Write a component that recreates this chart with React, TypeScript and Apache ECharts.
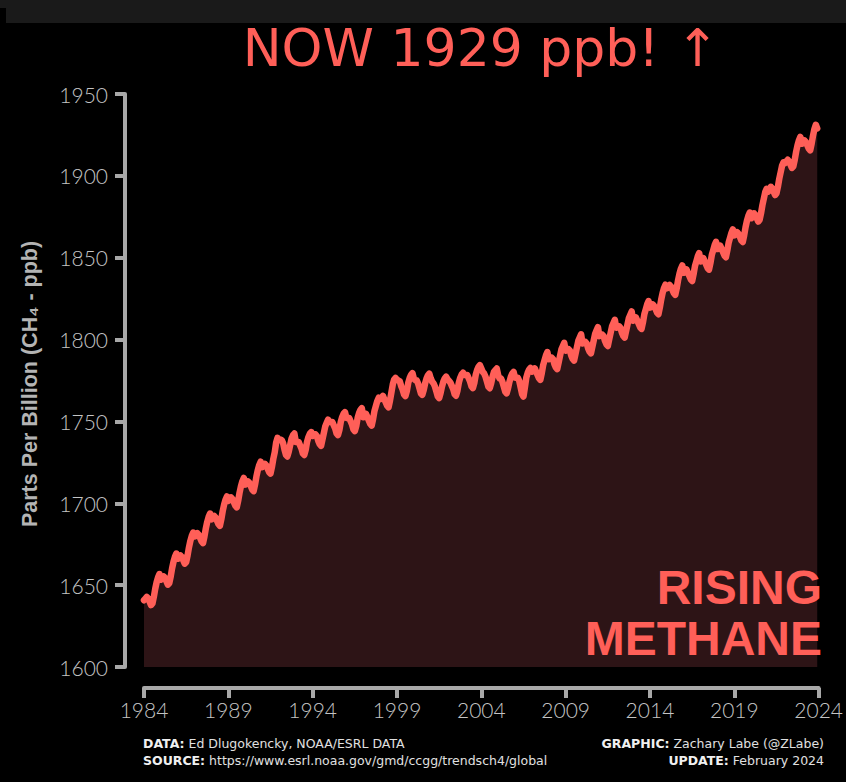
import React, { useEffect, useRef } from "react";
import * as echarts from "echarts";

const startYear = 1984;
const xTicks = [1984, 1989, 1994, 1999, 2004, 2009, 2014, 2019, 2024];
const yTicks = [1600, 1650, 1700, 1750, 1800, 1850, 1900, 1950];

// Monthly global mean CH4 (ppb), one row per year, Jan..Dec
const ch4_1980s = [
  [1640.8, 1641.8, 1642.8, 1641.8, 1639.8, 1637.8, 1638.8, 1642.8, 1647.8, 1651.8, 1654.8, 1656.8],
  [1653.3, 1654.3, 1655.3, 1654.3, 1652.3, 1650.3, 1651.3, 1655.3, 1660.3, 1664.3, 1667.3, 1669.3],
  [1666.1, 1667.1, 1668.1, 1667.1, 1665.1, 1663.1, 1664.1, 1668.1, 1673.1, 1677.1, 1680.1, 1682.1],
  [1679.7, 1680.7, 1681.7, 1680.7, 1678.7, 1676.7, 1675.7, 1679.7, 1684.7, 1688.7, 1691.7, 1693.7],
  [1690.2, 1691.2, 1692.2, 1691.2, 1689.2, 1687.2, 1686.2, 1690.2, 1695.2, 1699.2, 1702.2, 1704.2],
  [1701.5, 1702.5, 1703.5, 1702.5, 1700.5, 1698.5, 1697.5, 1701.5, 1706.5, 1710.5, 1713.5, 1715.5],
];
const ch4_1990s = [
  [1711.4, 1712.4, 1713.4, 1712.4, 1710.4, 1708.4, 1707.4, 1711.4, 1716.4, 1720.4, 1723.4, 1725.4],
  [1722.1, 1723.1, 1724.1, 1723.1, 1721.1, 1719.1, 1718.1, 1722.1, 1727.1, 1731.1, 1737.0, 1740.0],
  [1738.6, 1739.0, 1738.6, 1736.6, 1732.6, 1729.6, 1728.6, 1731.6, 1735.6, 1739.6, 1741.6, 1742.6],
  [1737.5, 1737.5, 1737.5, 1735.5, 1733.5, 1730.5, 1729.5, 1732.5, 1737.5, 1740.5, 1742.5, 1743.5],
  [1741.1, 1742.1, 1742.1, 1741.1, 1738.1, 1736.1, 1735.1, 1739.1, 1743.1, 1747.1, 1749.1, 1751.1],
  [1749.7, 1749.7, 1749.7, 1747.7, 1745.7, 1742.7, 1741.7, 1744.7, 1749.7, 1752.7, 1754.7, 1755.7],
  [1752.1, 1752.1, 1752.1, 1750.1, 1748.1, 1745.1, 1744.1, 1747.1, 1752.1, 1755.1, 1757.1, 1758.1],
  [1752.5, 1753.5, 1754.5, 1752.5, 1750.5, 1748.5, 1747.5, 1751.5, 1756.5, 1759.5, 1762.5, 1764.5],
  [1763.6, 1764.6, 1765.6, 1763.6, 1761.6, 1759.6, 1758.6, 1762.6, 1767.6, 1772.6, 1775.6, 1776.6],
  [1775.5, 1775.0, 1774.5, 1771.5, 1769.5, 1766.5, 1765.5, 1768.5, 1773.5, 1776.5, 1778.5, 1779.5],
];
const ch4_2000s = [
  [1776.2, 1775.2, 1775.2, 1773.2, 1770.2, 1767.2, 1766.2, 1769.2, 1773.2, 1776.2, 1778.2, 1779.2],
  [1776.3, 1774.3, 1773.3, 1771.3, 1768.3, 1765.3, 1764.3, 1767.3, 1771.3, 1774.3, 1776.3, 1777.3],
  [1775.7, 1774.7, 1773.7, 1771.7, 1769.7, 1766.7, 1765.7, 1768.7, 1773.7, 1776.7, 1778.7, 1779.7],
  [1778.4, 1778.4, 1778.4, 1776.4, 1774.4, 1771.4, 1770.4, 1773.4, 1778.4, 1781.4, 1783.4, 1784.4],
  [1782.3, 1780.3, 1779.3, 1777.3, 1774.3, 1771.3, 1770.3, 1773.3, 1777.3, 1780.3, 1781.3, 1782.3],
  [1778.2, 1776.2, 1776.2, 1774.2, 1771.2, 1768.2, 1767.2, 1770.2, 1774.2, 1777.2, 1779.2, 1780.2],
  [1776.7, 1776.7, 1776.7, 1774.7, 1770.7, 1766.7, 1765.2, 1770.7, 1776.7, 1779.7, 1781.7, 1782.7],
  [1780.4, 1781.4, 1782.4, 1780.4, 1778.4, 1776.4, 1775.4, 1779.4, 1784.4, 1787.4, 1790.4, 1792.4],
  [1788.0, 1789.0, 1789.0, 1788.0, 1785.0, 1783.0, 1782.0, 1786.0, 1790.0, 1794.0, 1796.0, 1798.0],
  [1793.2, 1794.2, 1794.2, 1793.2, 1790.2, 1788.2, 1787.2, 1791.2, 1795.2, 1799.2, 1801.2, 1803.2],
];
const ch4_2010s = [
  [1797.6, 1798.6, 1798.6, 1797.6, 1794.6, 1792.6, 1791.6, 1795.6, 1799.6, 1803.6, 1805.6, 1807.6],
  [1802.1, 1803.1, 1803.1, 1802.1, 1799.1, 1797.1, 1796.1, 1800.1, 1804.1, 1808.1, 1810.1, 1812.1],
  [1807.2, 1808.2, 1808.2, 1807.2, 1804.2, 1802.2, 1801.2, 1805.2, 1809.2, 1813.2, 1815.2, 1817.2],
  [1811.5, 1812.5, 1813.5, 1811.5, 1809.5, 1807.5, 1806.5, 1810.5, 1815.5, 1818.5, 1821.5, 1823.5],
  [1819.5, 1820.5, 1821.5, 1820.5, 1818.5, 1816.5, 1815.5, 1819.5, 1824.5, 1828.5, 1831.5, 1833.5],
  [1831.3, 1832.3, 1833.3, 1832.3, 1830.3, 1828.3, 1827.3, 1831.3, 1836.3, 1840.3, 1843.3, 1845.3],
  [1840.8, 1841.8, 1842.8, 1840.8, 1838.8, 1836.8, 1835.8, 1839.8, 1844.8, 1847.8, 1850.8, 1852.8],
  [1847.7, 1848.7, 1849.7, 1847.7, 1845.7, 1843.7, 1842.7, 1846.7, 1851.7, 1854.7, 1857.7, 1859.7],
  [1855.3, 1856.3, 1857.3, 1855.3, 1853.3, 1851.3, 1850.3, 1854.3, 1859.3, 1862.3, 1865.3, 1867.3],
  [1863.6, 1864.6, 1865.6, 1864.6, 1862.6, 1860.6, 1859.6, 1863.6, 1868.6, 1872.6, 1875.6, 1877.6],
];
const ch4_2020s = [
  [1874.1, 1875.1, 1877.1, 1876.1, 1874.1, 1872.1, 1873.1, 1877.1, 1882.1, 1886.1, 1890.1, 1892.1],
  [1890.3, 1891.3, 1893.3, 1892.3, 1890.3, 1888.3, 1889.3, 1893.3, 1898.3, 1902.3, 1906.3, 1908.3],
  [1907.8, 1908.8, 1909.8, 1908.8, 1906.8, 1904.8, 1905.8, 1909.8, 1914.8, 1918.8, 1921.8, 1923.8],
  [1919.6, 1920.6, 1921.6, 1920.6, 1918.6, 1916.6, 1915.6, 1919.6, 1924.6, 1928.6, 1931.2, 1929.0],
];

const titleText = "NOW 1929 ppb! \u2191";
const yAxisTitle = "Parts Per Billion (CH\u2084 - ppb)";
const stampLines = ["RISING", "METHANE"];

const RED = "#ff5f58";
const FILL = "#2d1416";
const AXIS = "#a8a8a8";
const LABEL = "#c4c4c4";

export default function App() {
  const ref = useRef<HTMLDivElement>(null);
  useEffect(() => {
    if (!ref.current) return;
    const chart = echarts.init(ref.current, undefined, { renderer: "svg" });
    const rows = [...ch4_1980s, ...ch4_1990s, ...ch4_2000s, ...ch4_2010s, ...ch4_2020s];
    const data: number[][] = [];
    rows.forEach((row, i) => {
      row.forEach((v, m) => {
        data.push([startYear + i + m / 12, v]);
      });
    });
    const tickFont = "Lato, 'DejaVu Sans', sans-serif";
    const richB = { fontWeight: "bold", fill: "#f0f0f0", fontSize: 12.5, fontFamily: "'DejaVu Sans', sans-serif" };
    chart.setOption({
      animation: false,
      backgroundColor: "#000000",
      grid: { left: 144, right: 22, top: 94, bottom: 115, containLabel: false },
      xAxis: {
        type: "value",
        min: xTicks[0],
        max: xTicks[xTicks.length - 1],
        interval: 5,
        offset: 21,
        axisLine: { show: true, lineStyle: { color: AXIS, width: 4 } },
        axisTick: { show: true, inside: false, length: 10, lineStyle: { color: AXIS, width: 4 } },
        splitLine: { show: false },
        axisLabel: {
          color: LABEL,
          fontSize: 21,
          fontFamily: tickFont,
          fontWeight: 300,
          margin: 11,
          formatter: (v: number) => String(v),
        },
      },
      yAxis: {
        type: "value",
        min: yTicks[0],
        max: yTicks[yTicks.length - 1],
        interval: 50,
        offset: 19,
        axisLine: { show: true, lineStyle: { color: AXIS, width: 4 } },
        axisTick: { show: true, inside: false, length: 10, lineStyle: { color: AXIS, width: 4 } },
        splitLine: { show: false },
        axisLabel: {
          color: LABEL,
          fontSize: 21,
          fontFamily: tickFont,
          fontWeight: 300,
          margin: 17,
          formatter: (v: number) => String(v),
        },
      },
      series: [
        {
          type: "line",
          data,
          showSymbol: false,
          smooth: false,
          lineStyle: { color: RED, width: 6.5, join: "round", cap: "round" },
          areaStyle: { color: FILL, opacity: 1, origin: "start" },
          z: 3,
        },
      ],
      graphic: [
        { type: "rect", left: 0, top: 0, shape: { width: 846, height: 23 }, style: { fill: "#1a1a1a" }, silent: true, z: 100 },
        { type: "rect", left: 0, top: 8, shape: { width: 6, height: 15 }, style: { fill: "#000000" }, silent: true, z: 101 },
        {
          type: "text",
          x: 481,
          y: 48,
          z: 100,
          style: {
            text: titleText,
            fill: RED,
            font: "500 52px 'DejaVu Sans', sans-serif",
            align: "center",
            verticalAlign: "middle",
          },
        },
        {
          type: "text",
          x: 30,
          y: 384,
          rotation: Math.PI / 2,
          z: 100,
          style: {
            text: yAxisTitle,
            fill: "#b4b4b4",
            font: "bold 21.5px 'Liberation Sans', Arial, sans-serif",
            align: "center",
            verticalAlign: "middle",
          },
        },
        {
          type: "text",
          x: 822,
          y: 587,
          z: 100,
          style: {
            text: stampLines[0],
            fill: RED,
            font: "bold 48px 'Liberation Sans', Arial, sans-serif",
            align: "right",
            verticalAlign: "middle",
          },
        },
        {
          type: "text",
          x: 822,
          y: 638,
          z: 100,
          style: {
            text: stampLines[1],
            fill: RED,
            font: "bold 48px 'Liberation Sans', Arial, sans-serif",
            align: "right",
            verticalAlign: "middle",
          },
        },
        {
          type: "text",
          x: 143,
          y: 743,
          z: 100,
          style: {
            text: "{b|DATA:} Ed Dlugokencky, NOAA/ESRL DATA",
            fill: "#e0e0e0",
            font: "normal 12.5px 'DejaVu Sans', sans-serif",
            align: "left",
            verticalAlign: "middle",
            rich: { b: richB },
          },
        },
        {
          type: "text",
          x: 143,
          y: 760,
          z: 100,
          style: {
            text: "{b|SOURCE:} https://www.esrl.noaa.gov/gmd/ccgg/trendsch4/global",
            fill: "#e0e0e0",
            font: "normal 12.5px 'DejaVu Sans', sans-serif",
            align: "left",
            verticalAlign: "middle",
            rich: { b: richB },
          },
        },
        {
          type: "text",
          x: 824,
          y: 743,
          z: 100,
          style: {
            text: "{b|GRAPHIC:} Zachary Labe (@ZLabe)",
            fill: "#e0e0e0",
            font: "normal 12.5px 'DejaVu Sans', sans-serif",
            align: "right",
            verticalAlign: "middle",
            rich: { b: richB },
          },
        },
        {
          type: "text",
          x: 824,
          y: 760,
          z: 100,
          style: {
            text: "{b|UPDATE:} February 2024",
            fill: "#e0e0e0",
            font: "normal 12.5px 'DejaVu Sans', sans-serif",
            align: "right",
            verticalAlign: "middle",
            rich: { b: richB },
          },
        },
      ],
    });
    return () => chart.dispose();
  }, []);
  return (
    <div style={{ position: "absolute", left: 0, top: 0, width: 846, height: 782, background: "#000" }}>
      <div ref={ref} style={{ width: 846, height: 782 }} />
    </div>
  );
}
